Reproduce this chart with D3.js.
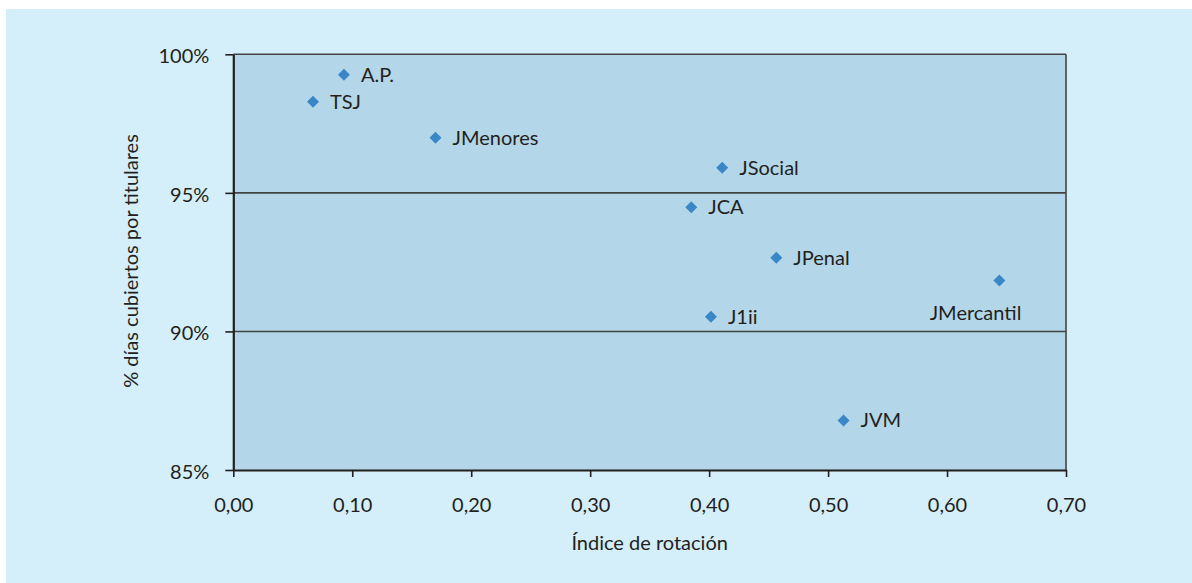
<!DOCTYPE html>
<html><head><meta charset="utf-8">
<script src="https://cdn.jsdelivr.net/npm/d3@7"></script>
<style>
html,body{margin:0;padding:0;background:#fff;}
svg text{font-family:Lato,"Open Sans",sans-serif;fill:#231f20;}
</style></head>
<body><svg id="c" width="1192" height="583"></svg>
<script>
const names = ["A.P.","TSJ","JMenores","JSocial","JCA","JPenal","J1ii","JMercantil","JVM"];
const xValues = [0.093,0.067,0.170,0.411,0.385,0.4565,0.4015,0.644,0.513];
const yValues = [0.9926,0.9829,0.9699,0.9591,0.9448,0.9266,0.9053,0.9184,0.8679];
const xTicks = [0,0.1,0.2,0.3,0.4,0.5,0.6,0.7];
const yTicks = [0.85,0.90,0.95,1.00];
const xTitle = "Índice de rotación";
const yTitle = "% días cubiertos por titulares";

const svg = d3.select("#c");
const L=233.3, R=1066, T=54.3, B=470;
const x = d3.scaleLinear().domain([0,0.7]).range([L,R]);
const y = d3.scaleLinear().domain([0.85,1.0]).range([B,T]);

svg.append("rect").attr("x",6).attr("y",9).attr("width",1186).attr("height",574).attr("fill","#d4eefa");
svg.append("rect").attr("x",L).attr("y",T).attr("width",R-L).attr("height",B-T).attr("fill","#b3d7e8");

// gridlines
svg.append("g").selectAll("line").data(yTicks.filter(d=>d>0.85)).join("line")
  .attr("x1",L).attr("x2",R).attr("y1",d=>y(d)).attr("y2",d=>y(d))
  .attr("stroke","#444").attr("stroke-width",1.6);
// right border
svg.append("line").attr("x1",R).attr("x2",R).attr("y1",T).attr("y2",B).attr("stroke","#444").attr("stroke-width",1.6);

const fmtX = d=>d3.format(".2f")(d).replace(".",",");
const fmtY = d=>Math.round(d*100)+"%";

const gx = svg.append("g").attr("transform",`translate(0,${B})`)
  .call(d3.axisBottom(x).tickValues(xTicks).tickFormat(fmtX).tickSize(7).tickSizeOuter(0).tickPadding(21));
const gy = svg.append("g").attr("transform",`translate(${L},0)`)
  .call(d3.axisLeft(y).tickValues(yTicks).tickFormat(fmtY).tickSize(8).tickSizeOuter(0).tickPadding(16));
[gx,gy].forEach(g=>{
  g.select(".domain").attr("stroke","#231f20").attr("stroke-width",2.2);
  g.selectAll(".tick line").attr("stroke","#231f20").attr("stroke-width",1.6);
  g.selectAll(".tick text").attr("font-size",20).attr("font-family","Lato").attr("fill","#231f20");
});
gy.selectAll(".tick text").attr("dy","0.42em");

svg.append("text").attr("x",(L+R)/2-0).attr("y",550).attr("text-anchor","middle").attr("font-size",20).text(xTitle);
svg.append("text").attr("transform",`translate(138,261) rotate(-90)`).attr("text-anchor","middle").attr("font-size",20).text(yTitle);

const data = names.map((n,i)=>({n,x:xValues[i],y:yValues[i]}));
svg.append("g").selectAll("path").data(data).join("path")
  .attr("d",d3.symbol(d3.symbolSquare,72)())
  .attr("transform",d=>`translate(${x(d.x)},${y(d.y)}) rotate(45)`)
  .attr("fill","#3a87c8");

svg.append("g").selectAll("text").data(data).join("text")
  .attr("x",d=>d.n==="JMercantil"? x(d.x)+22 : x(d.x)+17)
  .attr("y",d=>d.n==="JMercantil"? y(d.y)+40 : y(d.y)+7)
  .attr("text-anchor",d=>d.n==="JMercantil"?"end":"start")
  .attr("font-size",20)
  .text(d=>d.n);
</script></body></html>
